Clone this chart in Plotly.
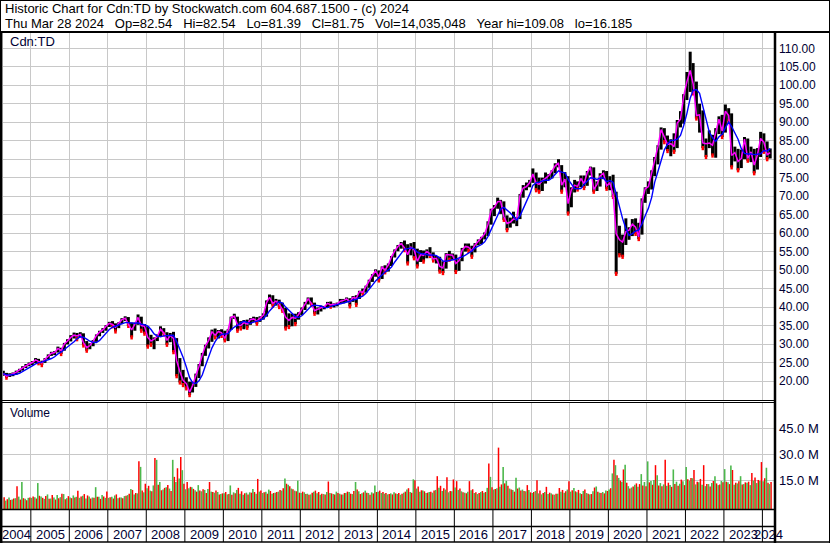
import pandas as pd
import plotly.graph_objects as go

# ---------------- data (monthly, Apr 2004 .. Mar 2024) ----------------
close = (
    [22.0, 21.3, 21.6, 21.9, 22.4, 23.0, 23.6, 24.2, 24.6]
    + [25.0, 25.7, 25.3, 24.9, 25.9, 26.8, 27.5, 27.7, 28.8, 28.2, 30.0, 30.8]
    + [31.8, 32.4, 32.2, 32.6, 30.4, 29.0, 29.6, 30.8, 32.3, 33.2, 33.8, 34.8]
    + [35.6, 35.3, 34.5, 35.6, 36.6, 37.0, 35.3, 33.8, 35.4, 37.2, 35.0, 34.8]
    + [31.8, 30.8, 31.3, 32.0, 34.0, 33.0, 31.0, 32.3, 31.5, 25.5, 22.5, 20.2]
    + [19.3, 17.0, 18.8, 21.2, 24.0, 27.0, 29.5, 31.0, 33.3, 32.4, 33.4, 33.0]
    + [31.5, 33.8, 37.2, 37.5, 35.2, 35.0, 35.8, 35.4, 36.6, 36.8, 36.2, 37.0]
    + [37.8, 41.2, 42.6, 41.0, 41.6, 40.8, 39.4, 37.2, 36.4, 37.2, 37.0, 38.0]
    + [39.6, 40.8, 42.2, 41.0, 39.0, 39.5, 39.8, 40.0, 41.0, 40.6, 40.6, 40.8]
    + [41.6, 41.8, 42.2, 41.4, 42.6, 42.4, 44.2, 44.0, 45.6, 47.2, 48.6, 49.8]
    + [48.2, 50.8, 50.0, 51.4, 53.6, 55.2, 56.4, 57.2, 56.0, 54.2, 56.2, 55.5]
    + [52.4, 54.2, 54.0, 55.0, 54.4, 53.0, 53.2, 51.0, 50.6, 54.2, 54.0, 54.0]
    + [51.8, 52.6, 55.4, 56.4, 56.2, 55.2, 56.8, 57.8, 58.6, 59.8, 62.4, 66.2]
    + [67.0, 68.5, 68.6, 64.5, 62.6, 63.0, 63.8, 63.8, 70.2, 72.2, 72.6, 73.6]
    + [76.0, 73.6, 73.2, 74.2, 74.8, 75.6, 76.8, 78.2, 79.0, 73.0, 74.6, 68.0]
    + [71.8, 73.0, 72.6, 74.8, 73.4, 76.4, 77.8, 71.8, 73.2, 75.5, 76.2, 72.8]
    + [73.6, 70.4, 59.8, 58.2, 57.6, 60.4, 60.8, 62.4, 61.6, 59.0, 68.6, 72.0]
    + [72.6, 76.2, 79.2, 83.4, 88.0, 85.8, 84.0, 84.2, 83.4, 89.8, 90.8, 97.0]
    + [101.0, 104.0, 100.4, 91.8, 92.0, 84.4, 84.2, 84.4, 83.8, 87.2, 90.8, 87.6]
    + [93.0, 91.8, 81.0, 81.8, 79.4, 80.2, 85.4, 80.2, 82.0, 78.4, 81.2, 85.6]
    + [84.6, 81.2, 81.75]
)
high = (
    [22.8, 22.2, 22.1, 22.3, 22.8, 23.3, 24.0, 24.6, 25.0]
    + [25.4, 26.2, 26.0, 25.5, 26.2, 27.2, 27.9, 28.1, 29.3, 29.0, 30.3, 31.3]
    + [32.4, 33.1, 33.0, 33.2, 32.9, 30.8, 30.2, 31.1, 32.6, 33.6, 34.3, 35.1]
    + [36.0, 36.2, 35.6, 35.9, 37.0, 37.5, 37.3, 35.8, 35.8, 38.0, 37.4, 35.4]
    + [34.8, 32.5, 31.8, 32.6, 34.8, 34.3, 33.2, 33.0, 33.3, 31.6, 26.2, 23.0]
    + [21.0, 19.8, 19.8, 22.0, 24.6, 27.6, 29.8, 31.8, 33.9, 34.2, 33.8, 34.0]
    + [33.6, 34.0, 37.4, 38.2, 37.4, 36.2, 36.5, 36.6, 37.0, 37.4, 37.3, 37.5]
    + [38.3, 41.8, 43.4, 43.2, 42.2, 42.0, 41.2, 39.8, 38.3, 38.2, 38.2, 38.6]
    + [39.9, 41.4, 42.6, 42.6, 41.2, 39.9, 40.4, 40.3, 41.4, 41.5, 41.0, 41.2]
    + [42.2, 42.2, 42.6, 42.4, 43.0, 43.2, 44.4, 45.0, 45.8, 47.4, 48.9, 50.2]
    + [49.9, 51.0, 51.3, 51.8, 53.8, 55.6, 56.8, 57.6, 58.0, 57.0, 57.3, 57.6]
    + [55.8, 55.4, 55.3, 55.6, 56.2, 54.8, 53.8, 53.6, 52.4, 54.6, 55.2, 54.5]
    + [54.2, 53.0, 56.0, 57.2, 57.2, 56.6, 57.3, 58.3, 59.0, 60.2, 63.2, 66.6]
    + [67.6, 69.6, 69.0, 68.6, 64.8, 64.2, 65.8, 64.4, 70.6, 73.0, 73.7, 74.4]
    + [77.5, 76.4, 75.0, 75.0, 76.4, 76.0, 77.0, 78.9, 80.0, 78.4, 76.5, 75.4]
    + [72.4, 74.4, 74.0, 75.6, 75.6, 76.8, 78.0, 77.8, 74.0, 76.2, 77.0, 76.8]
    + [75.4, 75.8, 71.2, 62.0, 59.6, 64.0, 61.6, 63.8, 64.0, 62.8, 69.4, 72.4]
    + [74.0, 77.0, 80.6, 83.8, 88.6, 88.4, 86.4, 85.4, 87.0, 90.6, 93.0, 97.6]
    + [103.6, 109.08, 106.0, 101.0, 95.0, 93.2, 85.6, 87.8, 86.6, 88.4, 91.6, 92.0]
    + [94.8, 93.8, 92.4, 83.4, 82.8, 82.6, 86.0, 85.6, 83.4, 82.8, 83.0, 87.4]
    + [87.0, 84.8, 82.9]
)
low = (
    [21.4, 20.9, 21.1, 21.3, 21.7, 22.3, 22.8, 23.5, 24.0]
    + [24.3, 24.8, 24.8, 24.3, 24.9, 25.9, 26.8, 27.0, 27.7, 27.3, 28.2, 29.9]
    + [30.7, 31.5, 31.3, 31.8, 29.6, 28.2, 28.6, 29.4, 30.6, 32.1, 33.0, 33.6]
    + [34.6, 34.8, 33.4, 34.3, 35.4, 36.2, 34.9, 31.8, 33.6, 35.2, 33.6, 32.8]
    + [29.3, 29.8, 28.6, 30.8, 32.0, 32.6, 29.8, 30.5, 27.8, 21.3, 19.6, 18.9]
    + [18.0, 16.185, 16.9, 18.4, 20.8, 24.0, 26.8, 28.8, 30.6, 31.8, 31.5, 32.2]
    + [31.0, 30.8, 33.8, 36.8, 33.6, 34.2, 34.0, 34.4, 35.2, 36.0, 35.5, 36.0]
    + [36.6, 37.4, 40.8, 40.4, 40.4, 40.0, 39.0, 34.2, 34.6, 34.8, 35.4, 36.6]
    + [37.8, 39.2, 40.7, 40.6, 38.2, 38.0, 38.8, 39.4, 39.8, 40.1, 39.9, 40.2]
    + [40.8, 41.0, 41.4, 40.2, 41.4, 40.6, 42.2, 43.6, 43.9, 45.2, 46.8, 48.2]
    + [47.2, 47.6, 49.4, 49.6, 51.1, 53.4, 55.1, 55.8, 55.4, 51.8, 54.0, 53.2]
    + [51.0, 52.2, 52.3, 53.2, 53.8, 52.6, 51.8, 49.6, 49.2, 50.4, 52.8, 52.8]
    + [49.5, 49.8, 52.4, 55.0, 55.2, 53.6, 54.8, 56.7, 57.0, 58.3, 59.2, 62.3]
    + [64.6, 66.6, 65.2, 63.6, 60.8, 61.5, 62.6, 61.9, 63.8, 69.6, 71.6, 72.4]
    + [73.6, 71.6, 71.2, 71.4, 73.4, 74.4, 74.8, 76.2, 77.8, 71.2, 72.4, 65.3]
    + [67.0, 71.0, 71.8, 72.4, 72.2, 72.8, 75.6, 71.2, 71.4, 72.6, 74.6, 72.0]
    + [71.6, 69.8, 49.0, 54.0, 53.6, 56.8, 58.2, 59.2, 59.8, 58.4, 59.6, 68.2]
    + [70.6, 71.8, 75.4, 78.6, 82.6, 84.6, 82.2, 80.8, 82.0, 83.0, 88.6, 89.6]
    + [96.0, 98.2, 97.8, 91.0, 87.2, 83.0, 80.6, 83.0, 81.0, 80.4, 86.8, 86.0]
    + [87.2, 90.2, 77.8, 79.4, 77.0, 77.6, 80.0, 79.6, 79.2, 76.2, 77.2, 80.6]
    + [82.0, 80.0, 80.2]
)
# volume in millions: traded on up days / down days within each month
vol_up = (
    [4.5, 3.2, 5.0, 3.8, 4.6, 5.5, 14.0, 4.2, 4.8]
    + [4.8, 5.2, 13.4, 5.6, 4.2, 6.8, 4.4, 5.0, 6.4, 5.2, 7.0, 4.6]
    + [5.0, 6.2, 5.4, 4.8, 6.0, 4.4, 5.6, 5.0, 11.0, 5.4, 6.4, 4.8]
    + [4.8, 5.4, 6.2, 4.6, 5.0, 5.8, 6.4, 10.0, 6.8, 7.4, 22.8, 8.0]
    + [10.4, 9.0, 12.0, 26.9, 14.0, 9.6, 11.0, 10.2, 26.9, 14.0, 16.0, 20.9]
    + [9.8, 10.4, 11.0, 9.2, 12.2, 8.6, 9.4, 10.0, 8.4, 7.8, 8.2, 7.0]
    + [7.4, 6.8, 12.0, 8.0, 9.4, 7.2, 6.6, 7.8, 8.0, 10.0, 7.2, 8.4]
    + [7.6, 8.4, 9.6, 7.2, 7.8, 8.4, 9.0, 16.0, 12.4, 10.2, 9.0, 14.8]
    + [7.6, 8.0, 7.2, 6.8, 8.4, 7.4, 6.6, 7.0, 8.2, 7.6, 7.0, 8.4]
    + [7.2, 6.8, 7.6, 8.2, 7.0, 14.0, 8.6, 7.4, 9.0, 7.6, 8.0, 12.0]
    + [8.4, 7.6, 7.2, 6.8, 7.4, 8.0, 7.0, 6.6, 7.8, 9.6, 8.2, 15.6]
    + [10.2, 8.4, 9.0, 7.6, 8.2, 7.8, 9.4, 10.6, 8.8, 9.6, 8.0, 8.6]
    + [10.8, 9.4, 8.6, 7.8, 8.4, 9.2, 7.6, 7.0, 8.2, 7.8, 10.6, 17.0]
    + [9.6, 10.4, 11.2, 22.8, 14.7, 10.2, 9.4, 16.5, 10.8, 9.6, 8.6, 9.4]
    + [7.6, 8.8, 7.4, 6.8, 8.2, 7.0, 7.4, 6.6, 7.2, 8.4, 7.8, 9.6]
    + [8.4, 10.5, 8.0, 7.4, 8.8, 7.6, 6.8, 8.6, 11.4, 7.8, 8.2, 9.0]
    + [9.6, 19.0, 23.8, 16.4, 14.2, 24.0, 11.6, 10.8, 12.4, 11.2, 18.6, 14.0]
    + [26.0, 14.6, 15.2, 18.0, 13.4, 12.6, 11.8, 12.2, 21.3, 14.2, 13.0, 14.4]
    + [22.8, 14.8, 16.2, 12.6, 13.8, 12.4, 11.6, 12.8, 13.4, 17.4, 12.2, 14.6]
    + [21.5, 13.8, 23.6, 12.4, 13.2, 17.4, 12.8, 13.6, 12.2, 14.8, 13.4, 14.6]
    + [14.4, 22.3, 12.8]
)
vol_dn = (
    [5.2, 4.0, 3.6, 4.4, 11.6, 3.8, 4.6, 3.4, 5.0]
    + [5.6, 4.4, 6.0, 4.8, 5.8, 4.2, 6.4, 3.8, 4.6, 7.2, 4.0, 5.8]
    + [4.6, 5.0, 8.9, 5.6, 7.0, 6.2, 4.4, 4.8, 5.4, 4.2, 5.6, 8.5]
    + [5.2, 4.4, 6.8, 5.0, 4.6, 6.0, 7.2, 9.4, 7.6, 26.0, 9.0, 13.0]
    + [11.8, 8.6, 27.9, 12.4, 9.2, 10.6, 12.2, 8.8, 17.0, 22.0, 28.5, 13.0]
    + [14.0, 11.2, 10.0, 8.4, 9.0, 9.8, 7.6, 14.0, 8.2, 9.0, 6.8, 7.4]
    + [8.2, 7.0, 6.6, 7.4, 10.6, 8.6, 7.4, 6.8, 7.8, 8.2, 15.8, 9.0]
    + [8.0, 7.2, 8.8, 7.6, 8.2, 9.4, 10.4, 13.0, 11.6, 9.8, 8.6, 7.8]
    + [8.4, 7.0, 6.6, 7.8, 9.0, 8.2, 7.2, 6.8, 14.3, 7.4, 6.8, 7.6]
    + [6.8, 7.6, 8.4, 7.2, 8.8, 9.6, 7.0, 8.0, 7.8, 6.6, 7.4, 8.2]
    + [9.0, 8.2, 7.6, 7.0, 6.8, 7.4, 7.6, 7.2, 8.4, 10.4, 7.8, 15.0]
    + [11.4, 9.2, 8.6, 7.8, 8.4, 9.0, 17.4, 11.8, 10.4, 16.7, 8.8, 15.5]
    + [14.5, 10.2, 8.0, 7.4, 14.5, 9.8, 8.0, 7.6, 8.8, 8.2, 24.8, 11.0]
    + [10.0, 34.0, 12.6, 13.2, 11.8, 9.6, 8.4, 10.2, 9.0, 8.8, 12.2, 8.0]
    + [8.2, 15.0, 9.0, 7.6, 11.2, 7.8, 6.8, 7.2, 10.5, 9.4, 8.6, 14.5]
    + [9.2, 8.6, 9.4, 7.0, 9.6, 7.2, 7.0, 10.8, 8.4, 7.6, 7.4, 8.8]
    + [10.4, 27.0, 18.0, 14.8, 21.3, 13.6, 10.2, 11.4, 13.2, 12.8, 12.0, 11.6]
    + [13.8, 12.4, 23.8, 12.0, 11.6, 27.0, 13.6, 11.2, 12.8, 11.8, 15.4, 12.2]
    + [15.6, 16.4, 21.0, 14.2, 15.8, 23.8, 12.8, 11.4, 14.6, 13.2, 12.6, 13.8]
    + [14.2, 12.8, 21.0, 13.6, 14.4, 12.6, 13.8, 14.2, 19.2, 16.6, 15.2, 25.6]
    + [16.2, 13.6, 14.0]
)
years = list(range(2004, 2025))
price_ticks = list(range(20, 111, 5))
vol_ticks = [15, 30, 45]
vol_ticktext = ["15.0 M", "30.0 M", "45.0 M"]

header1 = "Historic Chart for Cdn:TD by Stockwatch.com 604.687.1500 - (c) 2024"
header2 = ("Thu Mar 28 2024   Op=82.54   Hi=82.54   Lo=81.39   Cl=81.75   "
           "Vol=14,035,048   Year hi=109.08   lo=16.185")

n = len(close)
assert n == 240 and len(high) == n and len(low) == n and len(vol_up) == n and len(vol_dn) == n

month_start = pd.date_range("2004-04-01", periods=n, freq="MS")
dates = month_start + pd.Timedelta(days=14)
up_dates = month_start + pd.Timedelta(days=7)     # up-day volume drawn in first half of month
dn_dates = month_start + pd.Timedelta(days=22)    # down-day volume drawn in second half
s_close = pd.Series(close)
ma_long = s_close.rolling(5, min_periods=1).mean()

# ---------------- geometry helpers (pixel -> paper) ----------------
W, H = 830, 543
ML, MR, MT, MB = 3, 56, 33, 34
PW, PH = W - ML - MR, H - MT - MB
X0, X1 = "2004-04-12", "2024-04-20"


def px(x):
    return (x - ML) / PW


def py(y):
    return (H - MB - y) / PH


FONT = "Arial, Liberation Sans, sans-serif"
NAVY = "#000033"
GRID = "#c8c8c8"
VBASE = -1.69

fig = go.Figure()


def segments(xs, y0s, y1s):
    sx, sy = [], []
    for x, a, b in zip(xs, y0s, y1s):
        sx += [x, x, None]
        sy += [a, b, None]
    return sx, sy


# high-low bars
bx, by = segments(dates, low, high)
fig.add_trace(go.Scatter(x=bx, y=by, mode="lines", line=dict(color="black", width=3),
                         hoverinfo="skip", xaxis="x", yaxis="y"))
# red ticks on down months
dn_idx = [i for i in range(1, n) if close[i] < close[i - 1]]
fig.add_trace(go.Scatter(x=[dates[i] for i in dn_idx], y=[low[i] for i in dn_idx],
                         mode="markers",
                         marker=dict(symbol="line-ns", size=3, line=dict(color="red", width=2.5)),
                         hoverinfo="skip", xaxis="x", yaxis="y"))
fig.add_trace(go.Scatter(x=dates, y=close, mode="lines", line=dict(color="#ff00ff", width=1.5),
                         hoverinfo="skip", xaxis="x", yaxis="y"))
fig.add_trace(go.Scatter(x=dates, y=ma_long, mode="lines", line=dict(color="#0000ff", width=1.4),
                         hoverinfo="skip", xaxis="x", yaxis="y"))

# volume (vertical bars drawn as thin segments from the panel floor)
rx, ry = segments(dn_dates, [VBASE] * n, vol_dn)
gx, gy = segments(up_dates, [VBASE] * n, vol_up)
fig.add_trace(go.Scatter(x=rx, y=ry, mode="lines", line=dict(color="#ff0000", width=1.5),
                         hoverinfo="skip", xaxis="x2", yaxis="y2"))
fig.add_trace(go.Scatter(x=gx, y=gy, mode="lines", line=dict(color="#4cb84c", width=1.6),
                         hoverinfo="skip", xaxis="x2", yaxis="y2"))

year_starts = [f"{y}-01-01" for y in years[1:]]

xa = dict(type="date", range=[X0, X1], tickvals=year_starts, showticklabels=False,
          showgrid=True, gridcolor=GRID, gridwidth=1, zeroline=False, showline=False, ticks="")
fig.update_layout(
    width=W, height=H, autosize=False,
    margin=dict(l=ML, r=MR, t=MT, b=MB, pad=0),
    paper_bgcolor="white", plot_bgcolor="white",
    showlegend=False, hovermode=False,
    font=dict(family=FONT, color=NAVY),
    xaxis=dict(domain=[0, 1], anchor="y", **xa),
    xaxis2=dict(domain=[0, 1], anchor="y2", matches="x", **xa),
    yaxis=dict(domain=[py(400), 1], range=[14.86, 114.14], side="right", anchor="x",
               tickvals=price_ticks, tickformat=".2f", ticks="", ticklabelstandoff=4,
               tickfont=dict(size=12, color=NAVY, family=FONT),
               showgrid=True, gridcolor=GRID, gridwidth=1, zeroline=False, showline=False),
    yaxis2=dict(domain=[0, py(403)], range=[VBASE, 59.94], side="right", anchor="x2",
                tickvals=vol_ticks, ticktext=vol_ticktext, ticks="", ticklabelstandoff=4,
                tickfont=dict(size=13, color=NAVY, family=FONT),
                showgrid=True, gridcolor=GRID, gridwidth=1, zeroline=False, showline=False),
)

shapes = []


def hline(y, x0, x1, w=1):
    shapes.append(dict(type="line", xref="paper", yref="paper", x0=px(x0), x1=px(x1),
                       y0=py(y), y1=py(y), line=dict(color="black", width=w), layer="above"))


def vline(x, y0, y1, w=1):
    shapes.append(dict(type="line", xref="paper", yref="paper", x0=px(x), x1=px(x),
                       y0=py(y0), y1=py(y1), line=dict(color="black", width=w), layer="above"))


hline(32, 0, 830, 2)          # header separator
hline(400.5, 0, 774.5, 1)      # double line between panels
hline(402.5, 0, 774.5, 1)
hline(509.5, 0, 774.5, 1.5)    # bottom of volume panel
hline(526.5, 0, 774.5, 1.5)    # between the two date rows
hline(542, 0, 830, 1.5)        # bottom border
hline(0.5, 0, 830, 1)          # top border
vline(1.2, 32, 543, 2.5)       # left border
vline(0.5, 0, 32, 1)
vline(829.5, 0, 543, 1)        # right border
vline(775, 32, 543, 2.5)       # axis separator
# year separators in the date strip
for ys in year_starts:
    shapes.append(dict(type="line", xref="x", yref="paper", x0=ys, x1=ys,
                       y0=py(542), y1=py(510), line=dict(color="black", width=1), layer="above"))
fig.update_layout(shapes=shapes)

ann = []
ann.append(dict(text=header1, x=px(3), y=py(9), xref="paper", yref="paper", xanchor="left",
                yanchor="middle", showarrow=False, font=dict(size=13, color="black", family=FONT)))
ann.append(dict(text=header2.replace(" ", "\u00a0"), x=px(3), y=py(23.5), xref="paper", yref="paper",
                xanchor="left", yanchor="middle", showarrow=False,
                font=dict(size=13, color="black", family=FONT)))
ann.append(dict(text="Cdn:TD", x=px(8), y=py(41.5), xref="paper", yref="paper", xanchor="left",
                yanchor="middle", showarrow=False, font=dict(size=13, color=NAVY, family=FONT)))
ann.append(dict(text="Volume", x=px(8), y=py(413), xref="paper", yref="paper", xanchor="left",
                yanchor="middle", showarrow=False, font=dict(size=12, color=NAVY, family=FONT)))
# year labels centred in the visible part of each year
for y in years:
    a = max(pd.Timestamp(f"{y}-01-01"), pd.Timestamp(X0))
    b = min(pd.Timestamp(f"{y + 1}-01-01"), pd.Timestamp(X1))
    mid = a + (b - a) / 2
    ann.append(dict(text=str(y), x=mid, y=py(534.5), xref="x", yref="paper", xanchor="center",
                    yanchor="middle", showarrow=False, font=dict(size=13, color=NAVY, family=FONT)))
fig.update_layout(annotations=ann)

fig.write_html("out.html", config={"displayModeBar": False},
               post_script="document.body.style.margin='0px';")
